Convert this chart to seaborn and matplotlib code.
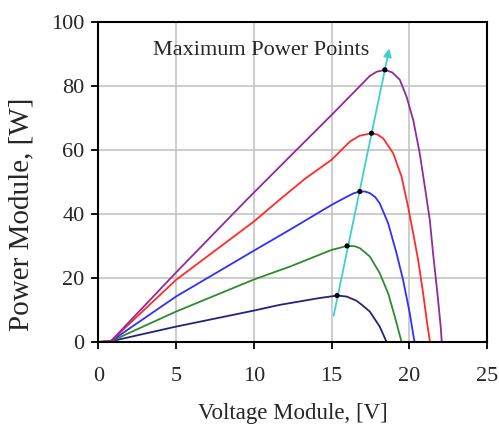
import numpy as np
import pandas as pd
import matplotlib
matplotlib.use("Agg")
import matplotlib.pyplot as plt
import seaborn as sns

# --- P-V curves (voltage V, power W) ---
v_navy = [0, 0.8, 5, 10, 11.68, 14.2, 15.36, 15.96, 16.6, 17.0, 17.46, 18.1, 18.45, 18.53]
p_navy = [0, 0.2, 4.8, 9.8, 11.6, 13.7, 14.5, 14.2, 12.9, 11.4, 9.5, 4.8, 1.0, 0]

v_green = [0, 0.8, 5, 10, 12.3, 15.0, 16.0, 16.5, 16.82, 17.1, 17.46, 18.1, 18.64, 19.07, 19.45, 19.5]
p_green = [0, 0.2, 9.5, 19.5, 23.5, 28.75, 30.0, 29.9, 29.3, 28.2, 26.7, 21.5, 15.2, 7.9, 1.0, 0]

v_blue = [0, 0.8, 5, 10, 12.3, 15.0, 15.8, 16.4, 16.82, 17.15, 17.46, 17.8, 18.1, 18.64, 19.18, 19.6, 20.03, 20.3, 20.35]
p_blue = [0, 0.2, 14.2, 28.5, 35.0, 42.8, 44.9, 46.4, 47.0, 47.0, 46.5, 45.3, 43.3, 37.1, 27.7, 19.4, 9.0, 1.0, 0]

v_red = [0, 0.8, 5, 10, 11.7, 13.3, 15.0, 16.18, 16.8, 17.57, 17.95, 18.32, 18.96, 19.5, 19.92, 20.25, 20.57, 20.89, 21.15, 21.3, 21.32]
p_red = [0, 0.2, 19.4, 37.6, 44.6, 51.0, 56.9, 62.6, 64.4, 65.2, 64.8, 63.6, 59.0, 51.7, 42.3, 34.0, 25.6, 15.2, 5.8, 1.0, 0]

v_purple = [0, 0.8, 5, 9.54, 12.5, 15.0, 17.0, 17.46, 17.9, 18.43, 18.9, 19.39, 19.82, 20.25, 20.67, 21.0, 21.32, 21.53, 21.81, 22.02, 22.09]
p_purple = [0, 0.2, 21.7, 44.4, 58.8, 70.9, 80.8, 83.1, 84.4, 85.0, 84.2, 81.9, 76.7, 69.4, 59.0, 48.5, 38.1, 27.7, 15.2, 4.8, 0]

curves = [
    ("navy", v_navy, p_navy, "#23237f"),
    ("green", v_green, p_green, "#2f8a2f"),
    ("blue", v_blue, p_blue, "#2f2fff"),
    ("red", v_red, p_red, "#ff2a2a"),
    ("purple", v_purple, p_purple, "#8e2c9a"),
]

# maximum power points
mpp_v = [15.36, 16.0, 16.82, 17.57, 18.43]
mpp_p = [14.5, 30.0, 47.0, 65.2, 85.0]

# arrow through the MPPs
arrow_v = [15.1, 18.75]
arrow_p = [7.4, 92.5]

sns.set_style("whitegrid")
plt.rcParams["font.family"] = ["Liberation Serif", "DejaVu Serif"]

fig = plt.figure(figsize=(4.99, 4.28), dpi=100)
ax = fig.add_axes([0.197, 0.201, 0.779, 0.748])

for name, v, p, col in curves:
    df = pd.DataFrame({"v": v, "p": p})
    sns.lineplot(data=df, x="v", y="p", sort=False, color=col, linewidth=1.3, ax=ax)

sns.scatterplot(x=mpp_v, y=mpp_p, color="black", s=14, zorder=5, ax=ax, edgecolor="none")

ax.annotate("", xy=(arrow_v[1], arrow_p[1]), xytext=(arrow_v[0], arrow_p[0]),
            arrowprops=dict(arrowstyle="-|>", color="#3fcfcf", lw=1.3, mutation_scale=12))

ax.text(10.5, 91.2, "Maximum Power Points", ha="center", va="center", fontsize=16)

ax.set_xlim(0, 25)
ax.set_ylim(0, 100)
ax.set_xticks([0, 5, 10, 15, 20, 25])
ax.set_yticks([0, 20, 40, 60, 80, 100])
ax.grid(True, color="#c4c4c4", linewidth=1.2)
for s in ax.spines.values():
    s.set_color("black")
    s.set_linewidth(1.5)
ax.tick_params(axis="both", which="both", direction="out", length=5, width=1.3,
               color="black", labelsize=16, left=True, bottom=True)
ax.tick_params(axis="x", pad=13)
ax.tick_params(axis="y", pad=5)
ax.set_xlabel("Voltage Module, [V]", fontsize=16.5)
ax.set_ylabel("Power Module, [W]", fontsize=21)
ax.xaxis.set_label_coords(0.5, -0.19)
ax.yaxis.set_label_coords(-0.165, 0.4)

fig.savefig("out.png", dpi=100)
